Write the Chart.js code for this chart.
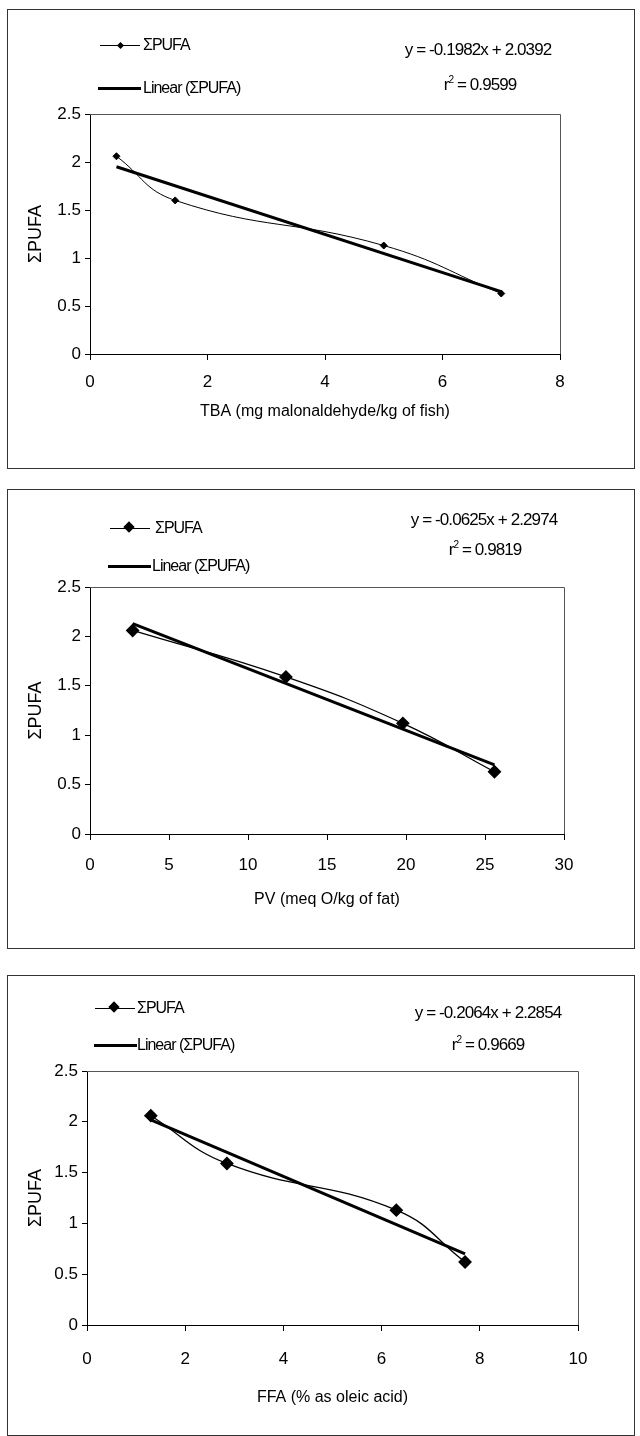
<!DOCTYPE html>
<html>
<head>
<meta charset="utf-8">
<script src="https://cdn.jsdelivr.net/npm/chart.js@4.4.1/dist/chart.umd.min.js"></script>
<style>
  body { margin: 0; background: #fff; }
  #page { position: relative; width: 640px; height: 1436px; font-family: "Liberation Sans", Arial, sans-serif; color: #000; }
  .panel { position: absolute; left: 7px; width: 628px; box-sizing: border-box; border: 1px solid #333; }
  .panel canvas { position: absolute; left: 0; top: 0; }
  .leg { position: absolute; font-size: 16px; letter-spacing: -1px; line-height: 18px; white-space: nowrap; }
  .sw { position: absolute; background: #000; }
  .dm { position: absolute; background: #000; transform: rotate(45deg); }
  .eq { position: absolute; width: 220px; font-size: 17px; letter-spacing: -0.9px; line-height: 18px; text-align: center; white-space: nowrap; }
</style>
</head>
<body>
<div id="page">
  <div class="panel" style="top:9px;height:460px;"><canvas id="tbaChart" width="626" height="458"></canvas></div>
  <div class="panel" style="top:489px;height:460px;"><canvas id="pvChart" width="626" height="458"></canvas></div>
  <div class="panel" style="top:975px;height:461px;"><canvas id="ffaChart" width="626" height="459"></canvas></div>

  <!-- legends / equations, panel 1 -->
  <div class="sw" style="left:100px;top:45px;width:40px;height:1px;"></div>
  <div class="dm" style="left:118px;top:43px;width:5px;height:5px;"></div>
  <div class="leg" style="left:143px;top:36px;">ΣPUFA</div>
  <div class="sw" style="left:98px;top:87px;width:43px;height:3px;"></div>
  <div class="leg" style="left:143px;top:79px;">Linear (ΣPUFA)</div>
  <div class="eq" style="left:368px;top:41px;">y = -0.1982x + 2.0392</div>
  <div class="eq" style="left:370px;top:76px;">r<sup style="font-size:10px;line-height:0">2</sup> = 0.9599</div>

  <!-- panel 2 -->
  <div class="sw" style="left:110px;top:528px;width:40px;height:1px;"></div>
  <div class="dm" style="left:125px;top:523px;width:8px;height:8px;"></div>
  <div class="leg" style="left:155px;top:519px;">ΣPUFA</div>
  <div class="sw" style="left:108px;top:565px;width:43px;height:3px;"></div>
  <div class="leg" style="left:152px;top:557px;">Linear (ΣPUFA)</div>
  <div class="eq" style="left:374px;top:511px;">y = -0.0625x + 2.2974</div>
  <div class="eq" style="left:375px;top:541px;">r<sup style="font-size:10px;line-height:0">2</sup> = 0.9819</div>

  <!-- panel 3 -->
  <div class="sw" style="left:95px;top:1008px;width:40px;height:1px;"></div>
  <div class="dm" style="left:110px;top:1003px;width:8px;height:8px;"></div>
  <div class="leg" style="left:137px;top:999px;">ΣPUFA</div>
  <div class="sw" style="left:94px;top:1044px;width:43px;height:3px;"></div>
  <div class="leg" style="left:137px;top:1036px;">Linear (ΣPUFA)</div>
  <div class="eq" style="left:378px;top:1004px;">y = -0.2064x + 2.2854</div>
  <div class="eq" style="left:378px;top:1036px;">r<sup style="font-size:10px;line-height:0">2</sup> = 0.9669</div>
</div>

<script>
// ---- data ----
const pufa = [2.06, 1.60, 1.13, 0.63];

const tbaValues = [0.45, 1.45, 5.0, 7.0];
const tbaTrendX = [0.45, 7.0];
const tbaTrendY = [1.95, 0.65];

const pvValues = [2.7, 12.4, 19.8, 25.6];
const pvPufa = [2.06, 1.59, 1.12, 0.63];
const pvTrendX = [2.7, 25.6];
const pvTrendY = [2.13, 0.70];

const ffaValues = [1.3, 2.85, 6.3, 7.7];
const ffaPufa = [2.06, 1.59, 1.13, 0.62];
const ffaTrendX = [1.3, 7.7];
const ffaTrendY = [2.02, 0.70];

const yTicks = [0, 0.5, 1, 1.5, 2, 2.5];

const FONT = '"Liberation Sans", Arial, sans-serif';

// top + right edges of the plot area
const plotFrame = {
  id: 'plotFrame',
  beforeDatasetsDraw(chart) {
    const { ctx, chartArea: a } = chart;
    ctx.save();
    ctx.strokeStyle = '#555';
    ctx.lineWidth = 1;
    ctx.beginPath();
    ctx.moveTo(a.left, Math.round(a.top) + 0.5);
    ctx.lineTo(Math.round(a.right) + 0.5, Math.round(a.top) + 0.5);
    ctx.lineTo(Math.round(a.right) + 0.5, a.bottom);
    ctx.stroke();
    ctx.restore();
  }
};

function pts(xs, ys) {
  return xs.map((x, i) => ({ x: x, y: ys[i] }));
}

function makePanel(id, xs, ys, tx, ty, xMax, xStep, xTitle, g) {
  const ctx = document.getElementById(id).getContext('2d');
  return new Chart(ctx, {
    type: 'scatter',
    data: {
      datasets: [
        {
          label: 'Linear (ΣPUFA)',
          data: pts(tx, ty),
          showLine: true,
          borderColor: '#000',
          borderWidth: 3,
          pointRadius: 0,
          order: 2
        },
        {
          label: 'ΣPUFA',
          data: pts(xs, ys),
          showLine: true,
          tension: 0.45,
          borderColor: '#000',
          borderWidth: g.lineW,
          pointStyle: 'rectRot',
          pointRadius: g.marker,
          pointBackgroundColor: '#000',
          pointBorderColor: '#000',
          order: 1
        }
      ]
    },
    options: {
      responsive: false,
      animation: false,
      layout: { padding: { top: g.top, right: g.right, left: 0, bottom: 0 } },
      plugins: { legend: { display: false }, tooltip: { enabled: false } },
      scales: {
        x: {
          type: 'linear',
          min: 0,
          max: xMax,
          afterFit: s => { s.height = g.xH; },
          border: { display: true, color: '#000', width: 1 },
          grid: { display: true, drawOnChartArea: false, drawTicks: true, tickLength: 6, color: '#000' },
          ticks: { stepSize: xStep, color: '#000', padding: g.tickPad, font: { family: FONT, size: 17 } },
          title: { display: true, text: xTitle, color: '#000', padding: { top: 4, bottom: g.titlePad }, font: { family: FONT, size: 16 } }
        },
        y: {
          min: 0,
          max: 2.5,
          afterFit: s => { s.width = g.yW; },
          afterBuildTicks: s => { s.ticks = yTicks.map(v => ({ value: v })); },
          border: { display: true, color: '#000', width: 1 },
          grid: { display: true, drawOnChartArea: false, drawTicks: true, tickLength: 5, color: '#000' },
          ticks: { color: '#000', padding: 4, font: { family: FONT, size: 17 }, callback: v => String(v) },
          title: { display: true, text: 'ΣPUFA', color: '#000', padding: { top: 17, bottom: 0 }, font: { family: FONT, size: 18 } }
        }
      }
    },
    plugins: [plotFrame]
  });
}

makePanel('tbaChart', tbaValues, pufa, tbaTrendX, tbaTrendY, 8, 2,
  'TBA (mg malonaldehyde/kg of fish)',
  { top: 104, right: 74, yW: 82, xH: 114, tickPad: 12, titlePad: 47, lineW: 1, marker: 3.5 });

makePanel('pvChart', pvValues, pvPufa, pvTrendX, pvTrendY, 30, 5,
  'PV (meq O/kg of fat)',
  { top: 97, right: 70, yW: 82, xH: 114, tickPad: 15, titlePad: 39, lineW: 1.3, marker: 6 });

makePanel('ffaChart', ffaValues, ffaPufa, ffaTrendX, ffaTrendY, 10, 2,
  'FFA (% as oleic acid)',
  { top: 95, right: 56, yW: 79, xH: 110, tickPad: 18, titlePad: 28, lineW: 1.3, marker: 6 });
</script>
</body>
</html>
